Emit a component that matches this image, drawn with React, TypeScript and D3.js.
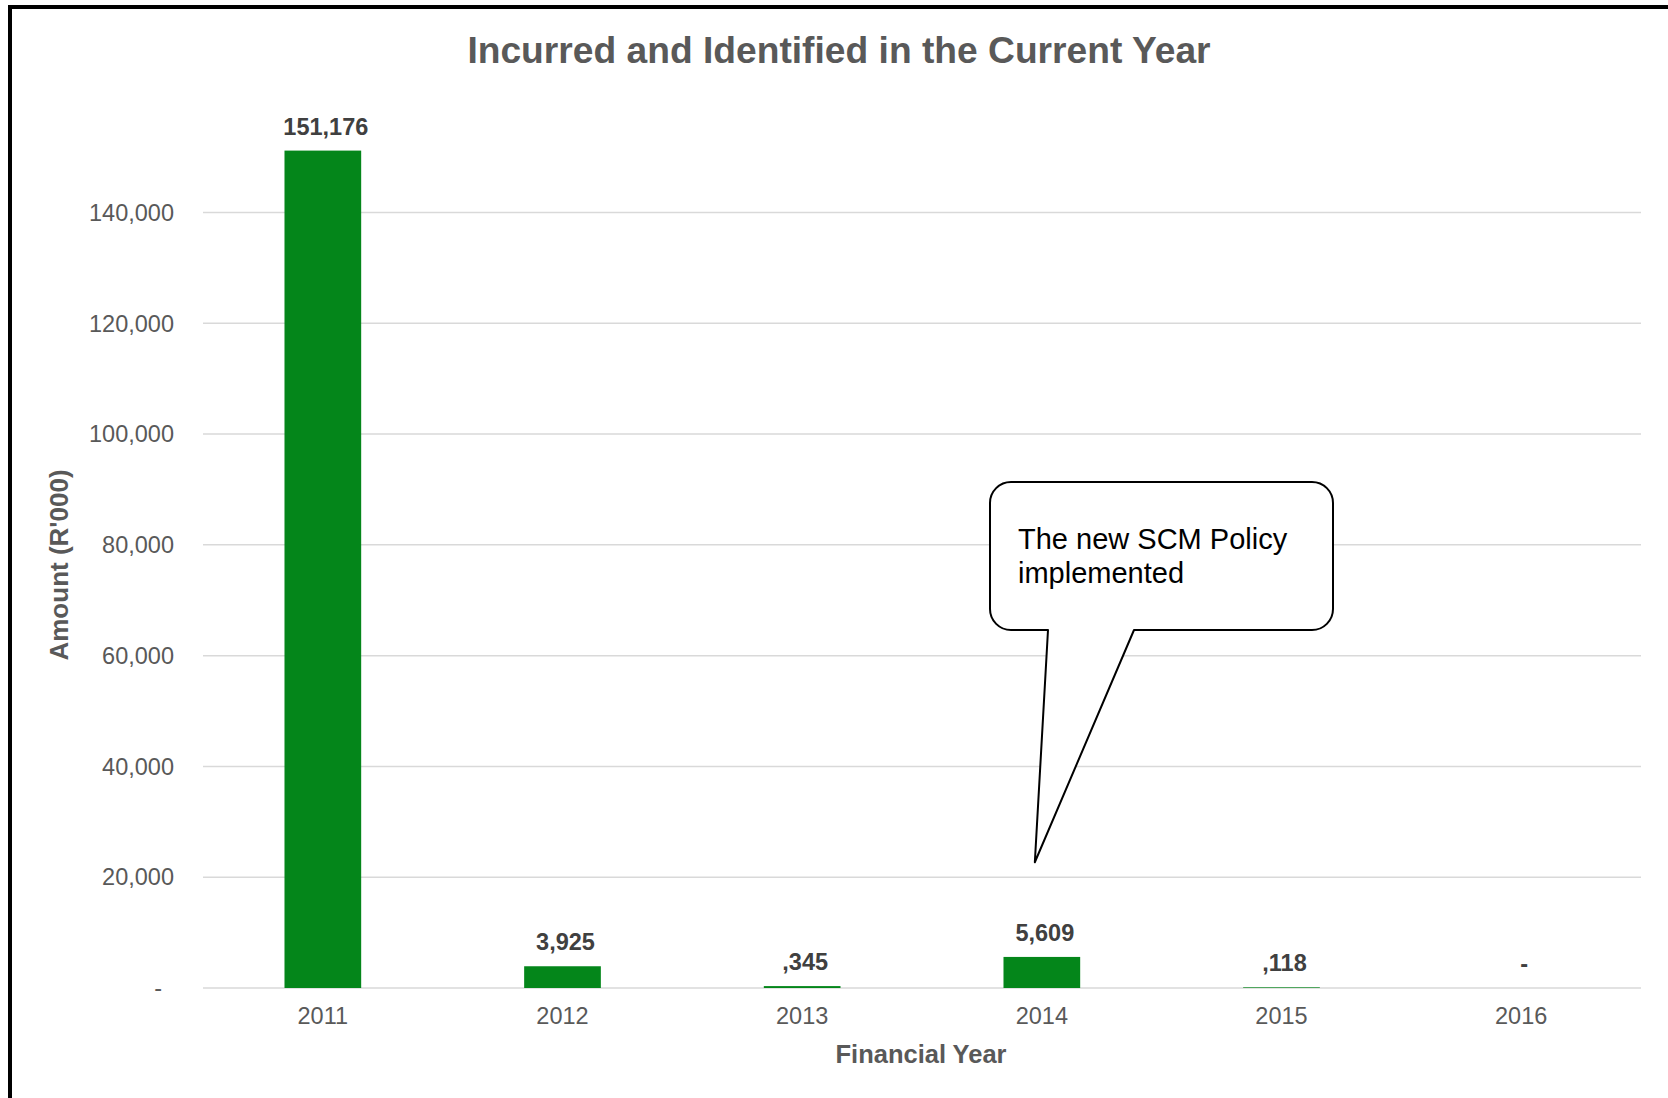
import React from "react";
import * as d3 from "d3";

const categories = ["2011", "2012", "2013", "2014", "2015", "2016"];
const values = [151176, 3925, 345, 5609, 118, 0];
const valueLabels = ["151,176", "3,925", ",345", "5,609", ",118", "-"];
const yTicks = [0, 20000, 40000, 60000, 80000, 100000, 120000, 140000];
const yTickLabels = ["-", "20,000", "40,000", "60,000", "80,000", "100,000", "120,000", "140,000"];
const title = "Incurred and Identified in the Current Year";
const xTitle = "Financial Year";
const yTitle = "Amount (R'000)";
const calloutLines = ["The new SCM Policy", "implemented"];
const calloutTipValue = 22700;

const W = 1668;
const H = 1098;
const plotLeft = 203;
const plotRight = 1641;
const plotTop = 212.5;
const plotBottom = 988;
const FONT = "Liberation Sans, Arial, Helvetica, sans-serif";

export default function App() {
  const x = d3.scaleBand<string>().domain(categories).range([plotLeft, plotRight]).padding(0);
  const y = d3.scaleLinear().domain([0, 140000]).range([plotBottom, plotTop]);
  const barW = x.bandwidth() * 0.32;

  // callout geometry
  const bx = 990, by = 482, bw = 343, bh = 148, r = 21;
  const tipX = (x("2014") as number) + x.bandwidth() * 0.5 - 7;
  const tipY = y(calloutTipValue);
  const b1 = 1048, b2 = 1134;
  const bb = by + bh;
  const calloutPath = [
    `M ${bx + r} ${by}`,
    `H ${bx + bw - r}`,
    `A ${r} ${r} 0 0 1 ${bx + bw} ${by + r}`,
    `V ${bb - r}`,
    `A ${r} ${r} 0 0 1 ${bx + bw - r} ${bb}`,
    `H ${b2}`,
    `L ${tipX} ${tipY}`,
    `L ${b1} ${bb}`,
    `H ${bx + r}`,
    `A ${r} ${r} 0 0 1 ${bx} ${bb - r}`,
    `V ${by + r}`,
    `A ${r} ${r} 0 0 1 ${bx + r} ${by}`,
    "Z",
  ].join(" ");

  return (
    <svg
      width={W}
      height={H}
      style={{ position: "absolute", left: 0, top: 0, background: "#fff" }}
      fontFamily={FONT}
    >
      <rect x={0} y={0} width={W} height={H} fill="#fff" />
      {/* frame */}
      <rect x={10} y={7} width={W + 20} height={H + 20} fill="none" stroke="#000" strokeWidth={4} />

      {/* title */}
      <text x={839} y={63} textAnchor="middle" fontSize={37.2} fontWeight="bold" fill="#595959">
        {title}
      </text>

      {/* gridlines */}
      {yTicks.map((t) => (
        <line key={t} x1={plotLeft} x2={plotRight} y1={y(t)} y2={y(t)} stroke="#d9d9d9" strokeWidth={1.5} />
      ))}

      {/* y tick labels */}
      {yTicks.map((t, i) => (
        <text
          key={"yl" + t}
          x={yTickLabels[i] === "-" ? 162 : 174}
          y={y(t)}
          dy="0.35em"
          textAnchor="end"
          fontSize={23.5}
          fill="#595959"
        >
          {yTickLabels[i]}
        </text>
      ))}

      {/* bars */}
      {categories.map((c, i) => {
        const cx = (x(c) as number) + x.bandwidth() / 2;
        const top = y(values[i]);
        return (
          <g key={c}>
            {values[i] > 0 && (
              <rect x={cx - barW / 2} y={top} width={barW} height={plotBottom - top} fill="#04861a" />
            )}
            <text
              x={cx + 3}
              y={top - 16}
              textAnchor="middle"
              fontSize={23.5}
              fontWeight="bold"
              fill="#404040"
            >
              {valueLabels[i]}
            </text>
            <text x={cx} y={1024} textAnchor="middle" fontSize={23.5} fill="#595959">
              {c}
            </text>
          </g>
        );
      })}

      {/* axis titles */}
      <text x={921} y={1063} textAnchor="middle" fontSize={25.5} fontWeight="bold" fill="#595959">
        {xTitle}
      </text>
      <text
        transform={`translate(68, 565) rotate(-90)`}
        textAnchor="middle"
        fontSize={26}
        fontWeight="bold"
        fill="#595959"
      >
        {yTitle}
      </text>

      {/* callout */}
      <path d={calloutPath} fill="#fff" stroke="#000" strokeWidth={2} strokeLinejoin="round" />
      {calloutLines.map((l, i) => (
        <text key={l} x={1018} y={549 + i * 34} fontSize={29} fill="#000">
          {l}
        </text>
      ))}
    </svg>
  );
}
